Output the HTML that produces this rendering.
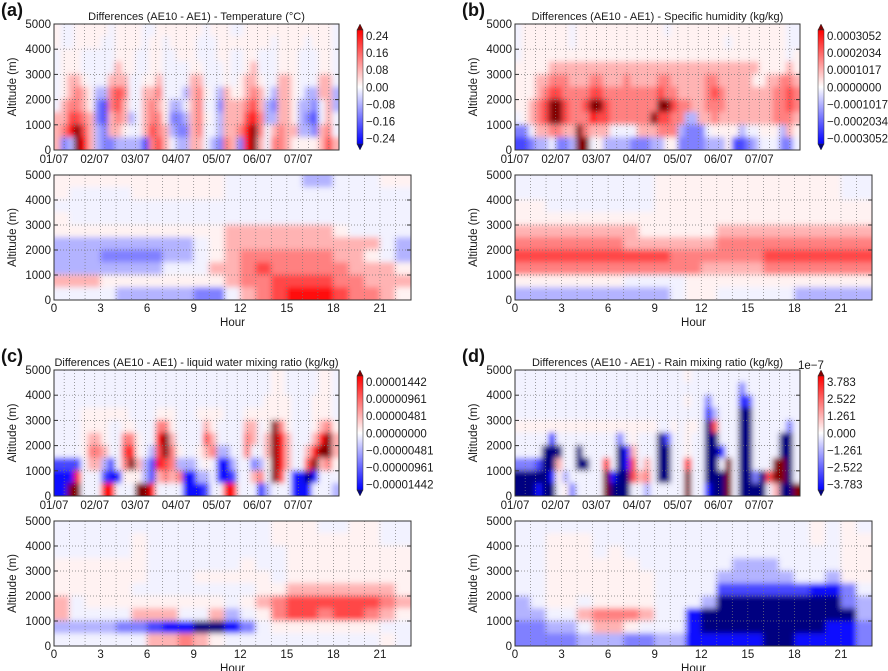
<!DOCTYPE html>
<html><head><meta charset="utf-8"><style>
html,body{margin:0;padding:0;background:#fff;}
svg{display:block;font-family:"Liberation Sans","DejaVu Sans",sans-serif;}
</style></head><body>
<svg id="fig" width="888" height="671" viewBox="0 0 888 671" xmlns="http://www.w3.org/2000/svg">
<defs><filter id="bl" x="-2%" y="-2%" width="104%" height="104%"><feGaussianBlur stdDeviation="2.6"/></filter>
<linearGradient id="cbg" x1="0" y1="1" x2="0" y2="0">
<stop offset="0" stop-color="#0000ff"/><stop offset="0.45" stop-color="#e6e6ff"/><stop offset="0.5" stop-color="#ffffff"/><stop offset="0.55" stop-color="#ffe6e6"/><stop offset="1" stop-color="#ff0000"/></linearGradient></defs>
</svg>
<script>
// Level codes: a..f negative (faint..dark), A..F positive, '.' zero. Rows top (4500-5000 m) to bottom (0-500 m).
const dayLabels=["01/07","02/07","03/07","04/07","05/07","06/07","07/07"];
const hourTicks=[0,3,6,9,12,15,18,21];
const altTicks=[0,1000,2000,3000,4000,5000];
const tempTop=[
"AaaAAAAAaAAAAaaAAAAAAAaAAAaaAAAAAAAAAAAAAa",
"AaaAAAAaaAAAAaAAaAAAAaaaAAAAAAAAaAAAAaAAAa",
"aAAAaaaaaAAAaaAAaaAAAaaaAAaaAAaaaAAAaaaAAa",
"aAAAaaaaaBAAaaAAaaaaAAaaaAaaABaaaAAAaaaAAa",
"aABBAaaaBBBaaAABaaaaBBaaaAaABBAaaBBAaaaBBa",
"aABCBAbbCDCaaBBCaaabBCAabBAABCBabBBAabbBBb",
"aBCCBAcdCDBaaBCBAbbaBCaacBBBCDBbcBBAbbcaBb",
"BBDDCBcdBCBbaBCCAccbBCAabBBBDECbbBBAbcdaBa",
"BCEFDBbcBBAaaBDCBbccBCaabBBCEFCaBCBBbbcBCa",
"BcbFEBbccbbbbdCDBabbBBabcCBcEFBaCCBAAAABDB"];
const tempBot=[
"AAAAAAAAAAAaaaaabbaaaAA",
"AaaaaAAAAAAaaaaaaaaaaaa",
"aaaaaaaaaaaaaaaaaaaaaaa",
"Aaaaaaaaaaaaaaaaaaaaaaa",
"AAAAAAAAAAABBBBBBBAaaaa",
"bbbbbbbbbaABBBBBBBBBBab",
"bbbccccbbaABCCCCCCBBAab",
"bbbbbbbaaaBBCDCCCCCBBBA",
"BBBAAAAAAAABCCDDDDCCBBB",
"aaaabbbbbccaBCDEEEDCCBA"];
const humTop=[
"aAAAAAAAaAAAAAAAAAAAAAaAAAAAAAAAAAAAAAAAaa",
"aAAAAAAAaAAAAAAAAAAAAAAAAAAAAAAaAAAAAAAAaa",
"aAAAAAAAAAAAAAAAAAAAAAAAAAAAAAAAAAAAAAAAaA",
"AAAAABBBBBBBBBBBBBBBBBBBBBBBBBBBBBBBAAAABA",
"AAABBCCCBBBCCBBBCBBBBCCBBBBBCCBBBBBAABBCCB",
"AAABCDDCCCCDDCCCCCCCCDCCBBBBCDCBBBBBBBCCDC",
"AABCDFFDCCDFFDCCCCCCCFFDCCBBCCCBBBBBBBCCDC",
"aABCDFFDCCCEDDCCCCCCFDDCCbbBBCBBBBBBBBCCCB",
"ccaBBCCBBFCBBBaaaaBBBCCCbcccaAAAAbaaAAAbBA",
"ddcbbaccbFFaAbbbbcccbbAAccccbbbAddcbaaacca"];
const humBot=[
"aaaaaaaaaAAAAAAAAAAAAaa",
"aaaaaaaaaAAAAAAAAAAAAaa",
"AAaaaaaaaAAAAAAAAAAAAAA",
"AAAAAAAAAAAAAAAAAAAAAAA",
"BBBBBBBBAAAAABBBBBBBBBB",
"CCCCCCCBBBBBBCCCCCCCCCC",
"DDDDDDDDDDCCCCCCDDDDDDD",
"CCCCCCCCCCCCBBBBCCCCCCC",
"AAAAAAAaaaaAAAAAAAAAAAA",
"bbbbbbbbbbaAAaaaaabbbbb"];
const lwTop=[
"aaaaaaaaaaaaaaaaaaaaaaaaaaaaaaaaAAaaaaaAAa",
"aaaaaaaaaaaaaaaaaaaaaaaaaaaaaaaaAAaaaaaAAa",
"aaaaaaaaaaaaaaaaaaaaaaaaaaaaaaaAAAAaaaAAAa",
"aaaaAAAAAAAaaaaAAAaaaAAAAaaaAAAAAAAaaaAAAa",
"aaaaAAAAaaAAaaaCCAaaaaBAaaaaBBaAFCAaaaABCA",
"aaaaABBAaaCCAaaEFBaaaaDBaaaaCBaBFEBaaaBEFB",
"aaaaACCBaaDEAabDFCAaaABCbbaaCaaBFEBaaBEFFB",
"ddddaBBbdaCFBbdEDCbbbaAaeebaacbAFEBaaDFBCA",
"eeeEaaadeeAAAbdBCBCeebbaeedaaBCaFDaeefeaaa",
"eeFFaaaEEaaaFFEaaaaeeedaaEEaaaebaaaeeeaaab"];
const lwBot=[
"aaaaaaaaaaaaaaAAAaaAAaa",
"aaaaaAaaaaaaaaAAAAAAAaa",
"aaaaaAaaaaaaaaaAAAAAAAA",
"AAAAAAaaaaaaAaaAAAAAAAA",
"AAAAAAaaaAAAAAaAAAAAAAA",
"AAAAAaaaaaaaaAABBBBBBBA",
"BaAAAAAAAAAaABCDDDDDDCB",
"BaaaaBBBaaBbaACDDCDDCBA",
"bbbbccdeeffecaAAAAAAAaa",
"aaaaaaBBCBAaaaaaaaaaaAa"];
const rainTop=[
"aaaaaaaaaaaaaaaaaaaaaaaaaAaaaaaaaaaaaaaaaa",
"aaaaaaaaaaaaaaaaaaaaaaaaaaaaaaaaacaaaaaaaa",
"aaaaaaaaaaaaaaaaaaaaaaaaaAaacaaaaedaaaaaaa",
"aaaaaaaaaaaaaaaaaaaaaaaaaaaaebaaaffaaaaaaa",
"AAAAAAAAAAAAAAAAAAAAAaaAaAAafDaaaffaaaaaca",
"aaaaaeaaaaaaaaacaAaaafdaaAaaffaaaffaaaaffa",
"aaaafffaafaaaaafeBaaaffaaAaaffeaaffaaaaffa",
"cccdffBaaffaaEafeDaBaffaaEaaffaFaffaaaFFfa",
"fffffeAbaaaaaFeffDBCaffaaFaafffFaffcfDFFfa",
"fffeffaAcaaaaFfffaabaaaaaFaaeffFaffffaBffF"];
const rainBot=[
"aaaaaaaaaaaaaaaaaaaAaAa",
"aaAAAaaaaaaaaaaaaaaAaAA",
"aaAAAaAaaaaaaaaaaaaaaAA",
"aaAAAAAAaaaaaabbbaaaaAA",
"aaAAAAAAAaaaabbbbbaabAA",
"aaAAAAAAAaaaaddddddeeca",
"baAAaAAAAaaabffffffffcb",
"bbaaBCCCBaaeffffffffffb",
"ccbbaBBAaaaeffffffffeec",
"ccccbbbccbbeeeeeffeeeec"];
const panelTitles=["Differences (AE10 - AE1) - Temperature (\u00b0C)","Differences (AE10 - AE1) - Specific humidity (kg/kg)","Differences (AE10 - AE1) - liquid water mixing ratio (kg/kg)","Differences (AE10 - AE1) - Rain mixing ratio (kg/kg)"];
const cbLabels=[["0.24","0.16","0.08","0.00","\u22120.08","\u22120.16","\u22120.24"],
["0.0003052","0.0002034","0.0001017","0.0000000","\u22120.0001017","\u22120.0002034","\u22120.0003052"],
["0.00001442","0.00000961","0.00000481","0.00000000","\u22120.00000481","\u22120.00000961","\u22120.00001442"],
["3.783","2.522","1.261","0.000","\u22121.261","\u22122.522","\u22123.783"]];

const NS="http://www.w3.org/2000/svg";
const svg=document.getElementById('fig');
function mk(tag,attrs,parent){const e=document.createElementNS(NS,tag);for(const k in attrs)e.setAttribute(k,attrs[k]);(parent||svg).appendChild(e);return e;}
const T=[0,0.05,0.3,0.5,0.72,0.95];
function color(ch){
  if(ch==='.')return '#ffffff';
  const neg=ch>='a'&&ch<='z';const m=ch.toLowerCase().charCodeAt(0)-96;
  if(m>=6)return neg?'rgb(0,0,128)':'rgb(130,0,0)';
  const t=T[m];const v=Math.round(255*(1-t));
  return neg?`rgb(${v},${v},255)`:`rgb(255,${v},${v})`;
}
let clipId=0;
function heat(rows,x0,y0,w,h,name){
  const nR=rows.length,nC=rows[0].length;
  const xs=c=>x0+c*w/nC, ys=r=>y0+r*h/nR;
  const cid='c'+(clipId++);
  const cp=mk('clipPath',{id:cid});mk('rect',{x:x0,y:y0,width:w,height:h},cp);
  const outer=mk('g',{'clip-path':`url(#${cid})`});
  
  
  const g=mk('g',{filter:'url(#bl)'},outer);
  for(let r=-1;r<=nR;r++){const rr=Math.min(nR-1,Math.max(0,r));
    for(let c=-1;c<=nC;c++){const cc=Math.min(nC-1,Math.max(0,c));
      const e=mk('rect',{x:xs(c)-0.3,y:ys(r)-0.3,width:w/nC+0.6,height:h/nR+0.6,fill:color(rows[rr][cc])},g);
      
      
    }}
}
function txt(s,x,y,opt,name){const e=mk('text',Object.assign({x:x,y:y,'font-size':11.5,fill:'#1a1a1a'},opt||{}));e.textContent=s;
  
  return e;}
function axesFrame(x0,y0,w,h,vx,name){
  const g=mk('g',{});
  
  
  vx.forEach(x=>mk('line',{x1:x,x2:x,y1:y0,y2:y0+h,stroke:'#777','stroke-width':0.7,'stroke-dasharray':'1,2'},g));
  for(let i=1;i<5;i++){const y=y0+h-i*h/5;mk('line',{x1:x0,x2:x0+w,y1:y,y2:y,stroke:'#777','stroke-width':0.7,'stroke-dasharray':'1,2'},g);
    mk('line',{x1:x0,x2:x0+4,y1:y,y2:y,stroke:'#333'},g);mk('line',{x1:x0+w-4,x2:x0+w,y1:y,y2:y,stroke:'#333'},g);}
  mk('rect',{x:x0,y:y0,width:w,height:h,fill:'none',stroke:'#333','stroke-width':1},g);
  altTicks.forEach(a=>txt(String(a),x0-3,y0+h-a/5000*h+4,{'text-anchor':'end'},'y-tick-label'));
  txt('Altitude (m)',0,0,{'text-anchor':'middle','font-size':11.5,transform:`translate(${x0-38},${y0+h/2}) rotate(-90)`},'y-axis-title');
}
const offs=[[0,0],[461,0],[0,346],[461,346]];
const tops=[tempTop,humTop,lwTop,rainTop], bots=[tempBot,humBot,lwBot,rainBot];
const letters=['(a)','(b)','(c)','(d)'];
offs.forEach(([ox,oy],p)=>{
  txt(letters[p],ox+1,oy+16,{'font-size':18,'font-weight':'bold',fill:'#111'},'panel-label');
  const tx=ox+54,ty=oy+24,tw=285,th=126;
  heat(tops[p],tx,ty,tw,th,'top-heatmap');
  const vx=[];for(let d=0;d<28;d++)vx.push(tx+d*tw/28);
  axesFrame(tx,ty,tw,th,vx,'top-axes');
  dayLabels.forEach((s,i)=>txt(s,tx+i*tw/7,ty+th+13,{'text-anchor':'middle'},'x-tick-label'));
  txt(panelTitles[p],tx+tw/2,oy+20,{'text-anchor':'middle','font-size':11},'chart-title');
  const cx=ox+357,cg=mk('g',{});
  
  
  mk('polygon',{points:`${cx},${oy+30} ${cx+3},${oy+24} ${cx+6},${oy+30}`,fill:'#820000',stroke:'#333','stroke-width':0.5},cg);
  mk('polygon',{points:`${cx},${oy+144} ${cx+3},${oy+150} ${cx+6},${oy+144}`,fill:'#000080',stroke:'#333','stroke-width':0.5},cg);
  mk('rect',{x:cx,y:oy+30,width:6,height:114,fill:'url(#cbg)',stroke:'#333','stroke-width':0.5},cg);
  cbLabels[p].forEach((s,i)=>txt(s,cx+9,oy+40+i*17.1,{},'colorbar-tick-label'));
  if(p===3)txt('1e\u22127',ox+337,oy+23,{},'colorbar-exponent');
  const bx=ox+54,by=oy+175,bw=357,bh=125;
  heat(bots[p],bx,by,bw,bh,'bottom-heatmap');
  const hx=h=>bx+h/23*bw;
  const v2=[];for(let h=1;h<23;h++)v2.push(hx(h));
  axesFrame(bx,by,bw,bh,v2,'bottom-axes');
  hourTicks.forEach(h=>txt(String(h),hx(h),by+bh+12,{'text-anchor':'middle'},'x-tick-label'));
  txt('Hour',bx+bw/2,by+bh+26,{'text-anchor':'middle'},'x-axis-title');
});
</script>
</body></html>
